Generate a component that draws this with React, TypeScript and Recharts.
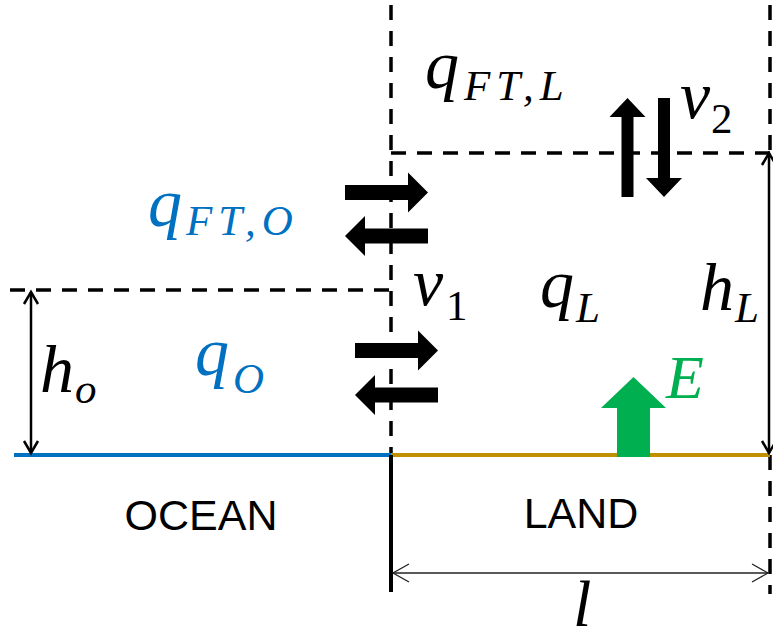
import React from "react";
import { ComposedChart, XAxis, YAxis, ReferenceLine, Scatter } from "recharts";

const W = 773;
const H = 641;

const SEA = "#0070C0";
const SAND = "#BF9000";
const LEAF = "#00B050";
const INK = "#000000";

// sketch frame: x runs left to right, y runs top to bottom (same units as the canvas)
const dashedGuides: number[][] = [
  [391, 5, 391, 455],
  [770, 5, 770, 152],
  [391, 153, 770, 153],
  [10, 290, 391, 290],
  [770, 455, 770, 594],
];

const oceanSurface: number[][] = [[14, 455, 391, 455]];
const landSurface: number[][] = [[391, 455, 770, 455]];
const coastWall: number[][] = [[391, 455, 391, 592]];

// thin double-headed dimension arrows: h_o, h_L, l
const heightMarks: number[][] = [
  [31, 292, 31, 453],
  [769, 153, 769, 453],
];
const widthMarks: number[][] = [[393, 573, 768, 573]];

// block arrows, drawn tail -> tip
const exchangeArrows: number[][] = [
  [345, 192.5, 428, 192.5],
  [428, 236, 345, 236],
  [355, 350.5, 438, 350.5],
  [438, 395, 355, 395],
];
const verticalArrows: number[][] = [
  [627.5, 197, 627.5, 98],
  [664, 98, 664, 197],
];
const evapArrow: number[][] = [[633.5, 457, 633.5, 377]];

// symbols: main glyph at (x, y), subscript at (sx, sy), baseline anchored
const inkSymbols = [
  { x: 425, y: 88, text: "q", sx: 464, sy: 100, sub: "FT,L" },
  { x: 680, y: 118, text: "v", sx: 711, sy: 133, sub: "2" },
  { x: 413, y: 305, text: "v", sx: 446, sy: 320, sub: "1" },
  { x: 540, y: 307, text: "q", sx: 576, sy: 322, sub: "L" },
  { x: 700, y: 310, text: "h", sx: 735, sy: 322, sub: "L" },
  { x: 40, y: 392, text: "h", sx: 75, sy: 403, sub: "o" },
  { x: 573, y: 626, text: "l", sx: 0, sy: 0, sub: "" },
];
const seaSymbols = [
  { x: 148, y: 226, text: "q", sx: 186, sy: 235, sub: "FT,O" },
  { x: 195, y: 375, text: "q", sx: 233, sy: 393, sub: "O" },
];
const leafSymbols = [{ x: 666, y: 398, text: "E", sx: 0, sy: 0, sub: "" }];

const regionNames = [
  { x: 201, y: 530, text: "OCEAN" },
  { x: 581, y: 528, text: "LAND" },
];

const mathFont = "'Liberation Serif', 'Times New Roman', serif";
const plainFont = "'Liberation Sans', Arial, sans-serif";

function blockArrow(shaft: number, head: number, len: number, fill: string) {
  return (p: any) => {
    const { x1, y1, x2, y2 } = p;
    const dx = x2 - x1;
    const dy = y2 - y1;
    const d = Math.hypot(dx, dy) || 1;
    const ux = dx / d;
    const uy = dy / d;
    const nx = -uy;
    const ny = ux;
    const bx = x2 - ux * len;
    const by = y2 - uy * len;
    const s = shaft / 2;
    const h = head / 2;
    const pts = [
      [x1 + nx * s, y1 + ny * s],
      [bx + nx * s, by + ny * s],
      [bx + nx * h, by + ny * h],
      [x2, y2],
      [bx - nx * h, by - ny * h],
      [bx - nx * s, by - ny * s],
      [x1 - nx * s, y1 - ny * s],
    ];
    return <polygon points={pts.map((q) => q.join(",")).join(" ")} fill={fill} />;
  };
}

function dimensionArrow(width: number, color: string, len: number, half: number) {
  return (p: any) => {
    const { x1, y1, x2, y2 } = p;
    const d = Math.hypot(x2 - x1, y2 - y1) || 1;
    const ux = (x2 - x1) / d;
    const uy = (y2 - y1) / d;
    const nx = -uy;
    const ny = ux;
    const headAt = (x: number, y: number, sgn: number) =>
      `M${x - sgn * ux * len + nx * half},${y - sgn * uy * len + ny * half} L${x},${y} L${
        x - sgn * ux * len - nx * half
      },${y - sgn * uy * len - ny * half}`;
    return (
      <g>
        <line x1={x1} y1={y1} x2={x2} y2={y2} stroke={color} strokeWidth={width} />
        <path
          d={`${headAt(x2, y2, 1)} ${headAt(x1, y1, -1)}`}
          fill="none"
          stroke={color}
          strokeWidth={width}
        />
      </g>
    );
  };
}

function symbolShape(color: string) {
  return (p: any) => {
    const { cx, cy, payload } = p;
    const big = payload.text === "l" ? 66 : payload.text === "E" ? 62 : 68;
    return (
      <g fontFamily={mathFont} fill={color}>
        <text x={cx} y={cy} fontSize={big} fontStyle="italic">
          {payload.text}
        </text>
        {payload.sub ? (
          <text
            x={cx + (payload.sx - payload.x)}
            y={cy + (payload.sy - payload.y)}
            fontSize={43}
            fontStyle={/^\d+$/.test(payload.sub) ? "normal" : "italic"}
            letterSpacing={payload.sub.length > 1 ? 6 : 0}
          >
            {payload.sub}
          </text>
        ) : null}
      </g>
    );
  };
}

const nameShape = (p: any) => (
  <text
    x={p.cx}
    y={p.cy}
    fontFamily={plainFont}
    fontSize={43}
    textAnchor="middle"
    fill={INK}
  >
    {p.payload.text}
  </text>
);

const seg = (s: number[]) => [
  { x: s[0], y: s[1] },
  { x: s[2], y: s[3] },
];

export default function App() {
  return (
    <div style={{ position: "absolute", left: 0, top: 0, background: "#fff" }}>
      <ComposedChart width={W} height={H} margin={{ top: 0, right: 0, bottom: 0, left: 0 }}>
        <XAxis type="number" dataKey="x" domain={[0, W]} allowDataOverflow hide />
        <YAxis type="number" dataKey="y" domain={[0, H]} reversed allowDataOverflow hide />

        {dashedGuides.map((s, i) => (
          <ReferenceLine
            key={`dash-${i}`}
            segment={seg(s)}
            stroke={INK}
            strokeWidth={3.5}
            strokeDasharray="15 11"
            ifOverflow="visible"
          />
        ))}
        {oceanSurface.map((s, i) => (
          <ReferenceLine key={`sea-${i}`} segment={seg(s)} stroke={SEA} strokeWidth={4} ifOverflow="visible" />
        ))}
        {landSurface.map((s, i) => (
          <ReferenceLine key={`land-${i}`} segment={seg(s)} stroke={SAND} strokeWidth={4} ifOverflow="visible" />
        ))}
        {coastWall.map((s, i) => (
          <ReferenceLine key={`wall-${i}`} segment={seg(s)} stroke={INK} strokeWidth={4} ifOverflow="visible" />
        ))}
        {heightMarks.map((s, i) => (
          <ReferenceLine
            key={`hm-${i}`}
            segment={seg(s)}
            ifOverflow="visible"
            shape={dimensionArrow(2.5, INK, 12, 7)}
          />
        ))}
        {widthMarks.map((s, i) => (
          <ReferenceLine
            key={`wm-${i}`}
            segment={seg(s)}
            ifOverflow="visible"
            shape={dimensionArrow(1.3, "#222", 16, 9)}
          />
        ))}
        {exchangeArrows.map((s, i) => (
          <ReferenceLine
            key={`ex-${i}`}
            segment={seg(s)}
            ifOverflow="visible"
            shape={blockArrow(15, 40, 20, INK)}
          />
        ))}
        {verticalArrows.map((s, i) => (
          <ReferenceLine
            key={`vx-${i}`}
            segment={seg(s)}
            ifOverflow="visible"
            shape={blockArrow(12, 36, 19, INK)}
          />
        ))}
        {evapArrow.map((s, i) => (
          <ReferenceLine
            key={`ev-${i}`}
            segment={seg(s)}
            ifOverflow="visible"
            shape={blockArrow(33, 65, 31, LEAF)}
          />
        ))}

        <Scatter data={inkSymbols} shape={symbolShape(INK)} isAnimationActive={false} />
        <Scatter data={seaSymbols} shape={symbolShape(SEA)} isAnimationActive={false} />
        <Scatter data={leafSymbols} shape={symbolShape(LEAF)} isAnimationActive={false} />
        <Scatter data={regionNames} shape={nameShape} isAnimationActive={false} />
      </ComposedChart>
    </div>
  );
}
